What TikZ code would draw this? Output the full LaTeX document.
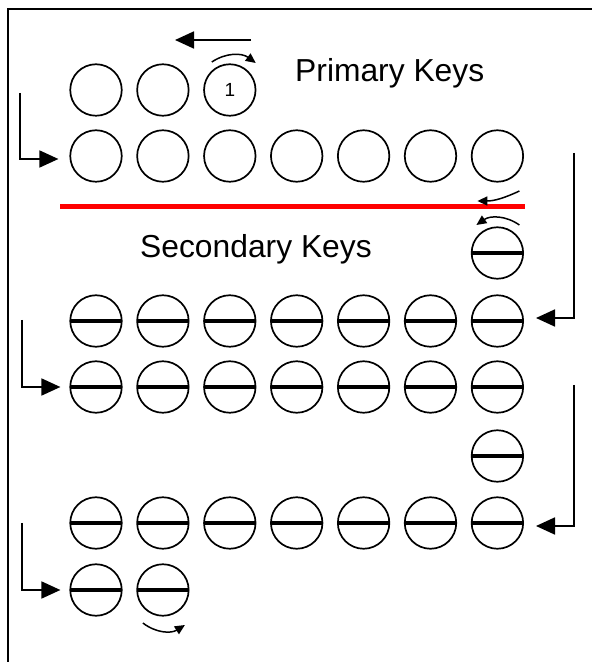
\documentclass[tikz,border=0pt]{standalone}
\usepackage{fontspec}
\setmainfont{Liberation Sans}
\usetikzlibrary{arrows.meta}

\begin{document}
\begin{tikzpicture}[x=1pt,y=1pt]
    % 设置样式
    \tikzset{
        key/.style={circle, draw, line width=1.7pt, minimum size=51.5pt, inner sep=0pt},
        seckey/.style={key, path picture={\draw[line width=4.2pt] (path picture bounding box.west) -- (path picture bounding box.east);}},
        bigarrow/.style={line width=1.8pt, -{Triangle[length=19pt,width=17pt]}},
        curl/.style={line width=1.5pt, -{Triangle[length=10pt,width=9pt]}},
        title/.style={font=\fontsize{31.8}{36}\selectfont, inner sep=0pt},
    }

    % 页面范围和外框
    \useasboundingbox (0,0) rectangle (592,662);
    \draw[line width=1.8pt] (8,0) -- (8,653) -- (592,653);

    % 主键 (空心圆)
    \foreach \i in {1,2} {
        \node[key] (p\i) at ({96+66.9*(\i-1)},572) {};
    }
    \node[key] (p3) at (229.8,572) {\fontsize{19}{21}\selectfont 1};
    \foreach \i in {1,...,7} {
        \node[key] (q\i) at ({96+66.9*(\i-1)},506) {};
    }
    \node[title, anchor=base west] (prim) at (295,580) {Primary Keys};

    % 分隔线 (红色)
    \draw[red, line width=5pt] (60,455) -- (525,455);

    % 次键 (带横线的圆)
    \node[title, anchor=base west] (sec) at (140,404) {Secondary Keys};
    \node[seckey] (t1) at (497.4,409) {};
    \foreach \r/\y in {a/341, b/275, c/139} {
        \foreach \i in {1,...,7} {
            \node[seckey] (\r\i) at ({96+66.9*(\i-1)},\y) {};
        }
    }
    \node[seckey] (t2) at (497.4,206) {};
    \foreach \i in {1,2} {
        \node[seckey] (d\i) at ({96+66.9*(\i-1)},72) {};
    }

    % 换行箭头
    \coordinate (ta) at (251,622);
    \coordinate (tb) at (175,622);
    \draw[bigarrow] (ta) -- (tb);
    \coordinate (l1) at (20,569);
    \draw[bigarrow, shorten >=11pt] (l1) |- ([yshift=-3pt]q1.west);
    \coordinate (r1) at (574,509);
    \draw[bigarrow, shorten >=12pt] (r1) |- ([yshift=3pt]a7.east);
    \coordinate (l2) at (22,342);
    \draw[bigarrow, shorten >=9pt] (l2) |- (b1.west);
    \coordinate (r2) at (574,277);
    \draw[bigarrow, shorten >=12pt] (r2) |- ([yshift=-3pt]c7.east);
    \coordinate (l3) at (22,139);
    \draw[bigarrow, shorten >=9pt] (l3) |- (d1.west);

    % 弯箭头
    \draw[curl] ([shift={(-18,28)}]p3.center) to[bend left=35] ([shift={(26,27)}]p3.center);
    \draw[curl] ([shift={(22,-35)}]q7.center) to[out=205, in=0] ([shift={(-20,-45)}]q7.center);
    \draw[curl] ([shift={(22,28)}]t1.center) to[bend right=35] ([shift={(-21,28)}]t1.center);
    \draw[curl] ([shift={(-20,-33)}]d2.center) to[bend right=35] ([shift={(22,-35)}]d2.center);
\end{tikzpicture}
\end{document}
